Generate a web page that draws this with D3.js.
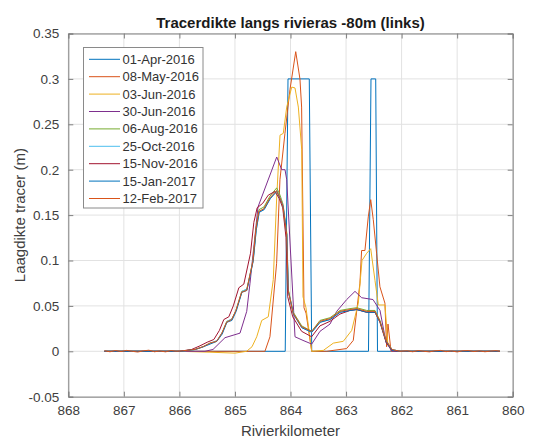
<!DOCTYPE html>
<html>
<head>
<meta charset="utf-8">
<script src="https://d3js.org/d3.v7.min.js"></script>
<style>
  html, body { margin: 0; padding: 0; background: #fff; }
  svg { display: block; font-family: "Liberation Sans", Arial, sans-serif; }
</style>
</head>
<body>
<svg id="chart" width="540" height="438"></svg>
<script>
// ---------------- DATA ----------------
const seriesNames = ["01-Apr-2016","08-May-2016","03-Jun-2016","30-Jun-2016","06-Aug-2016","25-Oct-2016","15-Nov-2016","15-Jan-2017","12-Feb-2017"];
const seriesColors = ["#0072BD","#D95319","#EDB120","#7E2F8E","#77AC30","#4DBEEE","#A2142F","#0072BD","#D95319"];
const xTicks = [868,867,866,865,864,863,862,861,860];
const yTicks = [-0.05,0,0.05,0.1,0.15,0.2,0.25,0.3,0.35];
const yTickLabels = ["-0.05","0","0.05","0.1","0.15","0.2","0.25","0.3","0.35"];

// [rivierkilometer, laagdikte (m)]
const apr2016 = [[867.35,0],[864.095,0],[864.045,0.3],[863.662,0.3],[863.618,0],[862.596,0],[862.551,0.3],[862.466,0.3],[862.434,0],[860.23,0]];
const may2016 = [[867.35,0],[864.46,0],[864.37,0.016],[864.25,0.097],[864.19,0.189],[864.10,0.240],[864.01,0.288],[863.906,0.33],[863.83,0.30],[863.80,0.269],[863.757,0.048],[863.72,0.042],[863.618,0],[863.35,0],[862.99,0.003],[862.87,0.012],[862.75,0.075],[862.72,0.111],[862.66,0.111],[862.60,0.148],[862.556,0.167],[862.51,0.145],[862.45,0.108],[862.39,0.071],[862.30,0.053],[862.27,0.005],[862.245,0.03],[862.19,0],[860.23,0]];
const jun2016a = [[867.35,0],[865.99,0],[865.45,-0.001],[865.0,-0.002],[864.79,0],[864.693,0.005],[864.608,0.016],[864.518,0.034],[864.40,0.038],[864.31,0.079],[864.248,0.17],[864.189,0.238],[864.13,0.240],[864.068,0.269],[863.978,0.291],[863.919,0.290],[863.859,0.269],[863.798,0.222],[863.775,0.06],[863.721,0.048],[863.618,0],[863.409,0.001],[863.229,0.009],[863.05,0.011],[862.898,0.023],[862.779,0.053],[862.713,0.100],[862.628,0.108],[862.556,0.113],[862.479,0.078],[862.419,0.051],[862.299,0.051],[862.25,0.01],[862.173,0],[860.23,0]];
const jun2016b = [[867.35,0],[865.54,0],[865.395,0.002],[865.179,0.015],[864.909,0.020],[864.788,0.044],[864.729,0.075],[864.585,0.159],[864.248,0.214],[864.158,0.200],[864.099,0.200],[864.068,0.189],[863.919,0.016],[863.775,0.012],[863.618,0.008],[863.469,0.022],[863.289,0.030],[863.168,0.044],[862.988,0.057],[862.839,0.066],[862.719,0.059],[862.515,0.057],[862.389,0.045],[862.281,0.010],[862.173,0],[860.23,0]];
const aug2016 = [[867.35,0],[865.99,0],[865.72,0.002],[865.575,0.005],[865.449,0.009],[865.329,0.011],[865.233,0.020],[865.148,0.033],[865.058,0.035],[864.981,0.045],[864.878,0.066],[864.788,0.068],[864.675,0.100],[864.621,0.135],[864.567,0.156],[864.477,0.159],[864.369,0.171],[864.248,0.180],[864.189,0.172],[864.135,0.162],[864.068,0.131],[864.04,0.068],[863.95,0.043],[863.798,0.028],[863.618,0.022],[863.469,0.034],[863.289,0.037],[863.109,0.045],[862.929,0.047],[862.808,0.048],[862.628,0.045],[862.479,0.045],[862.389,0.034],[862.281,0.012],[862.173,0.002],[862.029,0],[860.23,0]];
const oct2016 = [[867.35,0],[865.99,0],[865.71,0.002],[865.565,0.005],[865.44,0.009],[865.32,0.012],[865.225,0.021],[865.14,0.033],[865.05,0.036],[864.975,0.046],[864.87,0.066],[864.78,0.069],[864.67,0.101],[864.615,0.134],[864.56,0.154],[864.47,0.157],[864.36,0.169],[864.245,0.177],[864.185,0.169],[864.13,0.160],[864.065,0.128],[864.037,0.066],[863.945,0.041],[863.795,0.026],[863.618,0.021],[863.465,0.032],[863.285,0.035],[863.105,0.043],[862.925,0.045],[862.805,0.046],[862.625,0.043],[862.475,0.043],[862.385,0.032],[862.28,0.011],[862.17,0.002],[862.029,0],[860.23,0]];
const nov2016 = [[867.35,0],[866.0,0],[865.78,0.002],[865.63,0.006],[865.50,0.010],[865.38,0.013],[865.28,0.023],[865.20,0.035],[865.11,0.038],[865.03,0.050],[864.93,0.070],[864.84,0.074],[864.72,0.108],[864.66,0.142],[864.60,0.158],[864.50,0.163],[864.40,0.172],[864.28,0.176],[864.20,0.168],[864.14,0.158],[864.08,0.125],[864.05,0.060],[863.96,0.038],[863.80,0.022],[863.62,0.016],[863.47,0.028],[863.29,0.033],[863.11,0.041],[862.93,0.045],[862.81,0.046],[862.63,0.043],[862.48,0.043],[862.39,0.032],[862.28,0.010],[862.17,0.001],[862.03,0],[860.23,0]];
const jan2017 = [[867.35,0],[865.99,0],[865.715,0.002],[865.57,0.005],[865.445,0.008],[865.325,0.011],[865.23,0.019],[865.145,0.032],[865.055,0.034],[864.978,0.044],[864.875,0.065],[864.785,0.067],[864.672,0.099],[864.618,0.133],[864.565,0.153],[864.474,0.156],[864.365,0.168],[864.246,0.176],[864.187,0.168],[864.133,0.159],[864.066,0.128],[864.039,0.066],[863.948,0.041],[863.797,0.026],[863.618,0.021],[863.467,0.032],[863.287,0.035],[863.107,0.043],[862.927,0.045],[862.806,0.046],[862.626,0.043],[862.477,0.043],[862.387,0.032],[862.28,0.011],[862.172,0.001],[862.029,0],[860.23,0]];
const feb2017 = [[867.35,0.0005],[867.25,-0.0005],[867.15,0.0008],[867.05,-0.0003],[866.95,0.001],[866.85,0],[866.75,-0.0008],[866.65,0.0005],[866.55,0.0012],[866.45,-0.0005],[866.35,0.0003],[866.25,-0.0006],[866.15,0.0008],[866.05,0],[865.95,0.0005],[865.72,0.002],[865.578,0.005],[865.452,0.009],[865.33,0.011],[865.236,0.020],[865.15,0.032],[865.06,0.035],[864.983,0.045],[864.88,0.065],[864.79,0.067],[864.677,0.099],[864.623,0.134],[864.57,0.154],[864.479,0.157],[864.37,0.169],[864.25,0.177],[864.19,0.169],[864.136,0.160],[864.069,0.129],[864.041,0.067],[863.952,0.042],[863.8,0.027],[863.618,0.022],[863.47,0.033],[863.29,0.036],[863.11,0.044],[862.93,0.046],[862.81,0.047],[862.63,0.044],[862.48,0.044],[862.39,0.033],[862.282,0.012],[862.174,0.002],[862.03,0],[861.9,0.0005],[861.8,-0.0005],[861.7,0.0008],[861.6,0],[861.5,-0.0006],[861.4,0.0005],[861.3,0.001],[861.2,-0.0004],[861.1,0.0003],[861.0,-0.0007],[860.9,0.0005],[860.8,0.0008],[860.7,-0.0003],[860.6,0.0004],[860.5,-0.0005],[860.4,0.0002],[860.3,0.0006],[860.23,0]];

const seriesData = [apr2016, may2016, jun2016a, jun2016b, aug2016, oct2016, nov2016, jan2017, feb2017];

// ---------------- LAYOUT ----------------
const svg = d3.select("#chart");
const plot = {left: 68.3, right: 512.7, top: 33.5, bottom: 396.7};

const x = d3.scaleLinear().domain([868, 860]).range([plot.left, plot.right]);
const y = d3.scaleLinear().domain([-0.05, 0.35]).range([plot.bottom, plot.top]);

const axisColor = "#808080";
const textColor = "#404040";

// background
svg.append("rect").attr("x", plot.left).attr("y", plot.top)
  .attr("width", plot.right - plot.left).attr("height", plot.bottom - plot.top)
  .attr("fill", "#fff");

// grid
const grid = svg.append("g");
grid.selectAll("line.gx").data(xTicks).join("line")
  .attr("x1", d => x(d)).attr("x2", d => x(d))
  .attr("y1", plot.top).attr("y2", plot.bottom)
  .attr("stroke", "#e2e2e2").attr("stroke-width", 1);
grid.selectAll("line.gy").data(yTicks).join("line")
  .attr("x1", plot.left).attr("x2", plot.right)
  .attr("y1", d => y(d)).attr("y2", d => y(d))
  .attr("stroke", "#e2e2e2").attr("stroke-width", 1);

// clip
svg.append("clipPath").attr("id", "clip").append("rect")
  .attr("x", plot.left).attr("y", plot.top)
  .attr("width", plot.right - plot.left).attr("height", plot.bottom - plot.top);

const line = d3.line().x(d => x(d[0])).y(d => y(d[1]));
const linesG = svg.append("g").attr("clip-path", "url(#clip)");
seriesData.forEach((s, i) => {
  linesG.append("path").datum(s)
    .attr("d", line)
    .attr("fill", "none")
    .attr("stroke", seriesColors[i])
    .attr("stroke-width", 1)
    .attr("stroke-linejoin", "round");
});

// axes (ticks inside, box)
const xAxisB = d3.axisBottom(x).tickValues(xTicks).tickSize(-5).tickPadding(9).tickFormat(d3.format("d"));
const xAxisT = d3.axisTop(x).tickValues(xTicks).tickSize(-5).tickFormat("");
const yAxisL = d3.axisLeft(y).tickValues(yTicks).tickSize(-5).tickPadding(9).tickFormat((d, i) => yTickLabels[i]);
const yAxisR = d3.axisRight(y).tickValues(yTicks).tickSize(-5).tickFormat("");

function styleAxis(g) {
  g.select(".domain").attr("stroke", axisColor);
  g.selectAll(".tick line").attr("stroke", axisColor);
  g.selectAll(".tick text").attr("fill", textColor)
    .attr("font-size", "13.5px").attr("font-family", "Liberation Sans, Arial, sans-serif");
}
svg.append("g").attr("transform", `translate(0,${plot.bottom})`).call(xAxisB).call(styleAxis);
svg.append("g").attr("transform", `translate(0,${plot.top})`).call(xAxisT).call(styleAxis);
svg.append("g").attr("transform", `translate(${plot.left},0)`).call(yAxisL).call(styleAxis);
svg.append("g").attr("transform", `translate(${plot.right},0)`).call(yAxisR).call(styleAxis);

// title and labels
svg.append("text").attr("x", (plot.left + plot.right) / 2).attr("y", 28)
  .attr("text-anchor", "middle").attr("font-size", "15px").attr("font-weight", "bold")
  .attr("fill", "#1a1a1a").text("Tracerdikte langs rivieras -80m (links)");
svg.append("text").attr("x", (plot.left + plot.right) / 2).attr("y", 436)
  .attr("text-anchor", "middle").attr("font-size", "15px")
  .attr("fill", textColor).text("Rivierkilometer");
svg.append("text")
  .attr("transform", `translate(25,${(plot.top + plot.bottom) / 2}) rotate(-90)`)
  .attr("text-anchor", "middle").attr("font-size", "15px")
  .attr("fill", textColor).text("Laagdikte tracer (m)");

// legend
const leg = svg.append("g");
leg.append("rect").attr("x", 83.5).attr("y", 47.5).attr("width", 119.5).attr("height", 160.5)
  .attr("fill", "#fff").attr("stroke", "#8a8a8a").attr("stroke-width", 1);
seriesNames.forEach((n, i) => {
  const cy = 59.3 + i * 17.4;
  leg.append("line").attr("x1", 89).attr("x2", 120).attr("y1", cy).attr("y2", cy)
    .attr("stroke", seriesColors[i]).attr("stroke-width", 1);
  leg.append("text").attr("x", 122.5).attr("y", cy).attr("dy", "0.35em")
    .attr("font-size", "13px").attr("fill", "#333").text(n);
});
</script>
</body>
</html>
